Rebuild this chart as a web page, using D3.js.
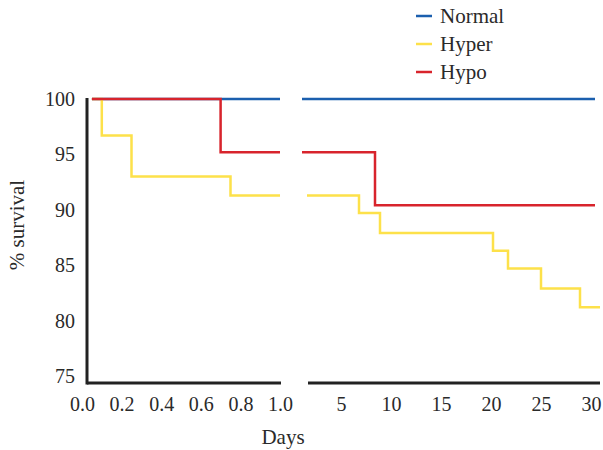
<!DOCTYPE html>
<html>
<head>
<meta charset="utf-8">
<script src="https://cdn.jsdelivr.net/npm/d3@7"></script>
<style>
  body { margin: 0; background: #fff; }
  svg text { font-family: "Liberation Serif", "Times New Roman", serif; fill: #2a2a2a; }
</style>
</head>
<body>
<script>
// series names and colours
var seriesNames = ["Normal", "Hyper", "Hypo"];
var seriesColors = ["#1b5fae", "#fde14a", "#d8242c"];

// left panel (first day), [day, % survival], step after
var normalEarly = [[0.05, 100], [1.0, 100]];
var hyperEarly = [[0.05, 100], [0.1, 96.7], [0.25, 93.0], [0.75, 91.3], [1.0, 91.3]];
var hypoEarly = [[0.05, 100], [0.7, 95.2], [1.0, 95.2]];

// right panel (days 1-30)
var normalLate = [[1.1, 100], [30.4, 100]];
var hyperLate = [[1.6, 91.3], [6.8, 89.7], [8.9, 87.9], [20.2, 86.3], [21.7, 84.7], [25, 82.9], [28.9, 81.2], [30.9, 81.2]];
var hypoLate = [[1.1, 95.2], [8.4, 90.4], [30.4, 90.4]];

// tick labels
var yTicks = [75, 80, 85, 90, 95, 100];
var xTicksEarly = [0, 0.2, 0.4, 0.6, 0.8, 1.0];
var xTicksLate = [5, 10, 15, 20, 25, 30];

var width = 603,
    height = 450;

var svg = d3.select("body")
    .append("svg")
    .attr("width", width)
    .attr("height", height);

var y = d3.scaleLinear().domain([75, 100]).range([376, 99]);
var xEarly = d3.scaleLinear().domain([0, 1]).range([82, 280]);
var xLate = d3.scaleLinear().domain([0, 30]).range([291, 591]);

var axisY = 383;

// y axis
var yAxis = svg.append("g")
    .attr("transform", "translate(76,0)")
    .call(d3.axisLeft(y).tickValues(yTicks).tickSize(0).tickPadding(1));
yAxis.select(".domain").remove();

svg.append("line")
    .attr("x1", 87).attr("x2", 87)
    .attr("y1", y(100) - 1).attr("y2", axisY + 1.5)
    .attr("stroke", "#222")
    .attr("stroke-width", 3);

// x axes (two panels)
var xAxisEarly = svg.append("g")
    .attr("transform", "translate(0," + axisY + ")")
    .call(d3.axisBottom(xEarly).tickValues(xTicksEarly).tickSize(0).tickPadding(14)
        .tickFormat(d3.format(".1f")));
var xAxisLate = svg.append("g")
    .attr("transform", "translate(0," + axisY + ")")
    .call(d3.axisBottom(xLate).tickValues(xTicksLate).tickSize(0).tickPadding(14));

[yAxis, xAxisEarly, xAxisLate].forEach(function(g) {
    g.attr("font-family", "Liberation Serif").attr("font-size", 20);
    g.select(".domain").remove();
    g.selectAll("text").attr("fill", "#2a2a2a");
});

svg.append("line")
    .attr("x1", 87).attr("x2", xEarly(1.005))
    .attr("y1", axisY).attr("y2", axisY)
    .attr("stroke", "#222").attr("stroke-width", 3);
svg.append("line")
    .attr("x1", xLate(1.7)).attr("x2", xLate(30.9))
    .attr("y1", axisY).attr("y2", axisY)
    .attr("stroke", "#222").attr("stroke-width", 3);

// survival curves
var lineEarly = d3.line()
    .x(function(d) { return xEarly(d[0]); })
    .y(function(d) { return y(d[1]); })
    .curve(d3.curveStepAfter);
var lineLate = d3.line()
    .x(function(d) { return xLate(d[0]); })
    .y(function(d) { return y(d[1]); })
    .curve(d3.curveStepAfter);

var early = [normalEarly, hyperEarly, hypoEarly];
var late = [normalLate, hyperLate, hypoLate];

early.forEach(function(data, i) {
    svg.append("path")
        .datum(data)
        .attr("d", lineEarly)
        .attr("fill", "none")
        .attr("stroke", seriesColors[i])
        .attr("stroke-width", 2.5);
});
late.forEach(function(data, i) {
    svg.append("path")
        .datum(data)
        .attr("d", lineLate)
        .attr("fill", "none")
        .attr("stroke", seriesColors[i])
        .attr("stroke-width", 2.5);
});

// axis titles
svg.append("text")
    .attr("x", 283).attr("y", 444)
    .attr("text-anchor", "middle")
    .style("font-size", "21px")
    .text("Days");
svg.append("text")
    .attr("transform", "translate(24,225) rotate(-90)")
    .attr("text-anchor", "middle")
    .style("font-size", "21px")
    .text("% survival");

// legend
var legend = svg.selectAll(".legend")
    .data(seriesNames)
    .enter()
    .append("g")
    .attr("class", "legend")
    .attr("transform", function(d, i) { return "translate(416," + (16 + i * 28) + ")"; });
legend.append("line")
    .attr("x1", 0).attr("x2", 16)
    .attr("stroke", function(d, i) { return seriesColors[i]; })
    .attr("stroke-width", 2.5);
legend.append("text")
    .attr("x", 24).attr("y", 7)
    .style("font-size", "21px")
    .text(function(d) { return d; });
</script>
</body>
</html>
